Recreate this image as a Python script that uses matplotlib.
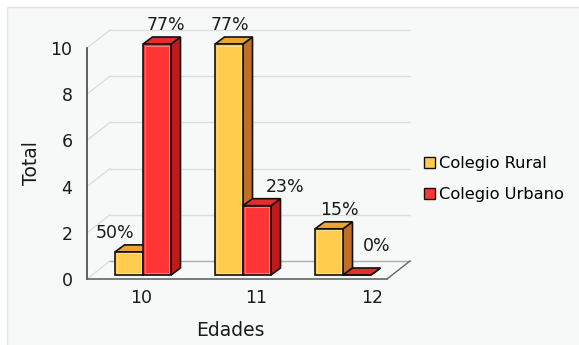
import matplotlib
matplotlib.use("Agg")
import matplotlib.pyplot as plt
from matplotlib.patches import Polygon, Rectangle, Patch
import numpy as np

# data
edades = ["10", "11", "12"]
series = ["Colegio Rural", "Colegio Urbano"]
rural = [1, 10, 2]
urbano = [10, 3, 0]
rural_pct = [50, 77, 15]
urbano_pct = [77, 23, 0]

# colours: front, top, side
col_rural = ("#ffcc4d", "#eea332", "#bf6f28")
col_urbano = ("#ff3535", "#e42e2e", "#c11a1a")

W, H = 579, 345
fig = plt.figure(figsize=(W / 100, H / 100), dpi=100)
fig.patches.append(Rectangle((7 / W, -0.01), 1, (H - 7) / H + 0.01, transform=fig.transFigure,
                             facecolor="#f7f8f8", edgecolor="#e2e4e4", lw=1, zorder=-10))

ax = fig.add_axes([87 / W, (H - 279) / H, 300 / W, 231 / H])
ax.set_xlim(0, 3)
ax.set_ylim(0, 10)
ax.set_facecolor("none")
for s in ax.spines.values():
    s.set_visible(False)

sx, sy = 3 / 300, 10 / 231          # data units per pixel
wall = (23 * sx, 18 * sy)           # depth of back wall
shift = (6 * sx, 4 * sy)            # bars sit a bit back from the front edge
depth = (9.5 * sx, 7 * sy)          # bar depth

# walls and grid
yt = np.arange(0, 11, 2)
for v in yt:
    ax.plot([0, wall[0]], [v, v + wall[1]], color="#dcdede", lw=1, clip_on=False, zorder=1)
    ax.plot([wall[0], 3 + wall[0]], [v + wall[1]] * 2, color="#dcdede" if v else "#a8b0b0",
            lw=1, clip_on=False, zorder=1)
ax.plot([0, 0], [0, 10], color="#3c4848", lw=1.2, clip_on=False, zorder=2)
ax.plot([0, 3], [0, 0], color="#5c6868", lw=1.2, clip_on=False, zorder=2)
ax.plot([3, 3 + wall[0]], [0, wall[1]], color="#5c6868", lw=1, clip_on=False, zorder=2)


def bar3d(x0, w, h, cols):
    face, top, side = cols
    x0 += shift[0]
    b = shift[1]
    dx, dy = depth
    front = [(x0, b), (x0 + w, b), (x0 + w, b + h), (x0, b + h)]
    topf = [(x0, b + h), (x0 + w, b + h), (x0 + w + dx, b + h + dy), (x0 + dx, b + h + dy)]
    sidef = [(x0 + w, b), (x0 + w + dx, b + dy), (x0 + w + dx, b + h + dy), (x0 + w, b + h)]
    for pts, c in ((sidef, side), (topf, top), (front, face)):
        ax.add_patch(Polygon(pts, closed=True, facecolor=c, edgecolor="#111111", lw=1.2,
                             joinstyle="miter", clip_on=False, zorder=3))
    if h > 0:
        ax.add_patch(Rectangle((x0 + 1.6 * sx, b + 1.6 * sy), w - 3.2 * sx, h - 3.2 * sy,
                               fill=False, edgecolor="white", alpha=0.35, lw=0.8,
                               clip_on=False, zorder=3))
    return x0 + w / 2 + dx / 2, b + h + dy


bw = 0.28
nudge_r = [(-19, 0), (-4, 0), (6, 0)]
nudge_u = [(4, 0), (23, 0), (15, 10)]
for i in range(len(edades)):
    tx, ty = bar3d(i + 0.5 - bw, bw, rural[i], col_rural)
    ax.annotate(f"{rural_pct[i]}%", (tx, ty), xytext=(nudge_r[i][0], 3 + nudge_r[i][1]),
                textcoords="offset pixels", ha="center", va="bottom", fontsize=12.5,
                color="#1a1a1a", annotation_clip=False, zorder=5)
    tx, ty = bar3d(i + 0.5, bw, urbano[i], col_urbano)
    ax.annotate(f"{urbano_pct[i]}%", (tx, ty), xytext=(nudge_u[i][0], 3 + nudge_u[i][1]),
                textcoords="offset pixels", ha="center", va="bottom", fontsize=12.5,
                color="#1a1a1a", annotation_clip=False, zorder=5)

ax.set_yticks(yt)
ax.set_xticks(np.arange(3) * 1.155 + 0.54, edades)
ax.tick_params(axis="y", length=0, pad=10.5, labelsize=12.5, labelcolor="#1a1a1a")
ax.tick_params(axis="x", length=0, pad=7, labelsize=12.5, labelcolor="#1a1a1a")

ax.set_ylabel("Total", fontsize=13.5, color="#1a1a1a")
ax.yaxis.set_label_coords(-0.153, 0.5)
ax.set_xlabel("Edades", fontsize=13.5, color="#1a1a1a")
ax.xaxis.set_label_coords(0.477, -0.18)

handles = [Patch(facecolor=col_rural[0], edgecolor="#111111"),
           Patch(facecolor=col_urbano[0], edgecolor="#111111")]
fig.legend(handles, series, loc="upper left", bbox_to_anchor=(424 / W, 1 - 156 / H),
           frameon=False, fontsize=11.7, handlelength=0.65, handleheight=0.65,
           handletextpad=0.25, labelspacing=1.0, borderpad=0, borderaxespad=0)

fig.savefig("out.png", dpi=100)
